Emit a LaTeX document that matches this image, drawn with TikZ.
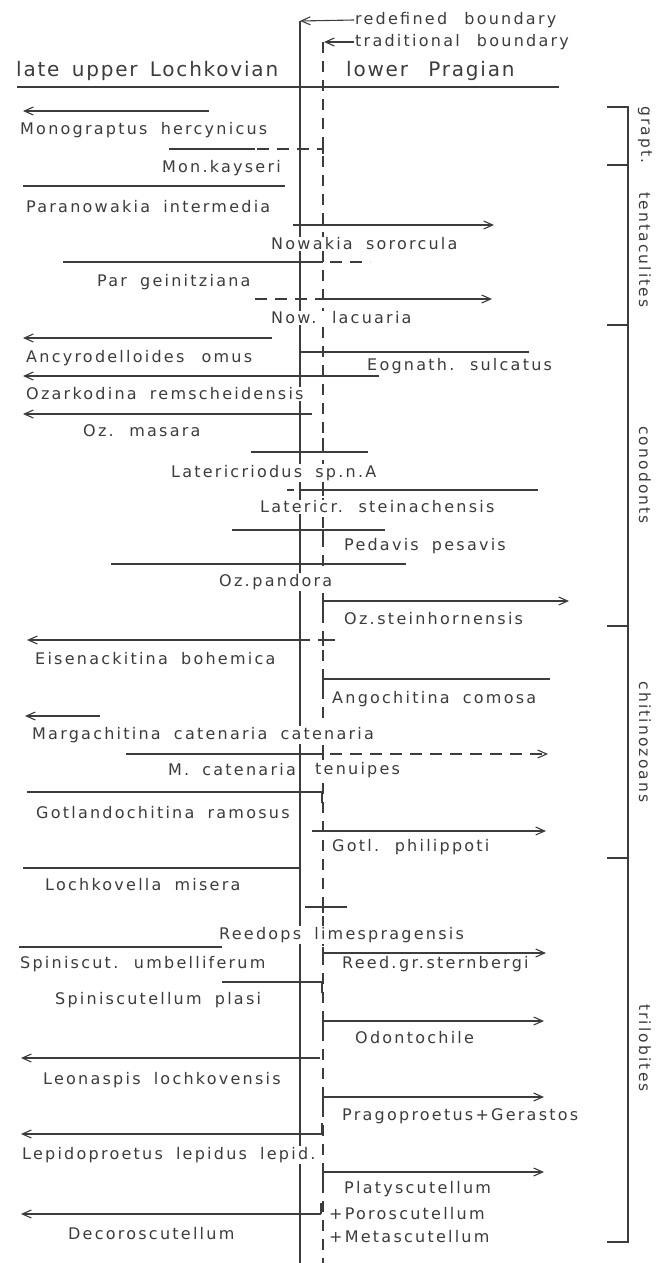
\documentclass[tikz,border=0pt]{standalone}
\usepackage{fontspec}
\usetikzlibrary{arrows.meta}
\newfontfamily\lblfont{DejaVu Sans}[LetterSpace=14,WordSpace=1.8]
\newfontfamily\hdrfont{DejaVu Sans}[LetterSpace=9,WordSpace=1.5]
\definecolor{ink}{RGB}{60,60,60}
\tikzset{
  ln/.style={draw=ink, line width=1.1pt},
  la/.style={ln, -{Straight Barb[length=9pt,width=8pt]}},
  dsh/.style={ln, dash pattern=on 12pt off 8pt},
  dla/.style={dsh, -{Straight Barb[length=9pt,width=8pt]}},
  vdash/.style={ln, dash pattern=on 11pt off 8pt},
  lbl/.style={anchor=west, text=ink, fill=white, inner sep=1pt, font={\lblfont\fontsize{16}{18}\selectfont}},
  lble/.style={lbl, anchor=east},
  hdr/.style={anchor=west, text=ink, inner sep=1pt, font={\hdrfont\fontsize{20}{22}\selectfont}},
  grp/.style={text=ink, inner sep=1pt, rotate=-90, font={\lblfont\fontsize{15.5}{17}\selectfont}},
}
\begin{document}
\begin{tikzpicture}[x=1pt,y=-1pt]
\useasboundingbox (0,0) rectangle (656,1263);
% boundaries
\coordinate (rb) at (300,21);
\coordinate (tb) at (323,42);
\draw[ln] (rb) -- (300,1263);
\draw[vdash] (tb) -- (323,1263);
\node[lbl, fill=none] (redef) at (354,20) {redefined\hspace{4pt} boundary};
\node[lbl, fill=none] (trad) at (354,42) {traditional\hspace{4pt} boundary};
\draw[la] (redef.west) -- (rb);
\draw[la] (trad.west) -- (324,42);
\node[hdr] (lul) at (15,71) {late upper Lochkovian};
\node[hdr] (lp) at (345,71) {lower\hspace{8pt} Pragian};
\draw[ln] (17,87) -- (559,87);
% right bracket
\draw[ln] (607,107) -- (628,107) -- (628,1242) -- (607,1242);
\draw[ln] (607,165) -- (628,165);
\draw[ln] (607,325) -- (628,325);
\draw[ln] (607,626) -- (628,626);
\draw[ln] (607,858) -- (628,858);
\node[grp] (g1) at (645,135) {grapt.};
\node[grp] (g2) at (645,250) {tentaculites};
\node[grp] (g3) at (645,475) {conodonts};
\node[grp] (g4) at (645,742) {chitinozoans};
\node[grp] (g5) at (645,1048) {trilobites};
% graptolites / tentaculites
\draw[la] (209,111) -- (23,111);
\draw[ln] (169,149) -- (255,149);
\draw[dsh] (257,149) -- (323,149);
\draw[ln] (323,144) -- (323,154);
\draw[ln] (23,186) -- (285,186);
\draw[la] (293,225) -- (494,225);
\draw[ln] (63,262) -- (323,262);
\draw[dsh] (330,262) -- (370,262);
\draw[dsh] (255,299) -- (323,299);
\draw[la] (323,299) -- (492,299);
% conodonts
\draw[la] (272,338) -- (23,338);
\draw[ln] (300,352) -- (529,352);
\draw[la] (379,376) -- (23,376);
\draw[la] (312,414) -- (23,414);
\draw[ln] (251,452) -- (368,452);
\draw[ln] (323,438) -- (323,452);
\draw[ln] (287,490) -- (294,490);
\draw[ln] (300,490) -- (538,490);
\draw[ln] (323,484) -- (323,496);
\draw[ln] (232,530) -- (385,530);
\draw[ln] (323,530) -- (323,540);
\draw[ln] (111,564) -- (406,564);
\draw[ln] (323,612) -- (323,601);
\draw[la] (323,601) -- (569,601);
% chitinozoans
\draw[la] (310,640) -- (27,640);
\draw[ln] (318,640) -- (335,640);
\draw[ln] (323,634) -- (323,646);
\draw[ln] (323,690) -- (323,679) -- (550,679);
\draw[la] (100,716) -- (25,716);
\draw[ln] (126,754) -- (323,754);
\draw[ln] (323,748) -- (323,760);
\draw[dla] (330,754) -- (548,754);
\draw[ln] (27,792) -- (322,792) -- (322,803);
\draw[la] (312,831) -- (546,831);
% trilobites
\draw[ln] (23,868) -- (300,868);
\draw[ln] (305,907) -- (347,907);
\draw[ln] (323,901) -- (323,913);
\draw[ln] (323,947) -- (323,959);
\draw[la] (323,953) -- (546,953);
\draw[ln] (19,947) -- (222,947);
\draw[ln] (222,982) -- (322,982) -- (322,993);
\draw[ln] (323,1032) -- (323,1021);
\draw[la] (323,1021) -- (544,1021);
\draw[la] (320,1058) -- (21,1058);
\draw[ln] (323,1108) -- (323,1097);
\draw[la] (323,1097) -- (544,1097);
\draw[ln] (322,1123) -- (322,1134);
\draw[la] (322,1134) -- (21,1134);
\draw[ln] (323,1183) -- (323,1172);
\draw[la] (323,1172) -- (544,1172);
\draw[ln] (321,1203) -- (321,1214);
\draw[la] (321,1214) -- (21,1214);
% labels
\node[lbl] (t1) at (19,130) {Monograptus hercynicus};
\node[lble] (t2) at (282,168) {Mon.kayseri};
\node[lbl] (t3) at (25,207) {Paranowakia intermedia};
\node[lbl] (t4) at (270,244) {Nowakia sororcula};
\node[lbl] (t5) at (96,282) {Par geinitziana};
\node[lbl] (t6) at (270,318) {Now. lacuaria};
\node[lbl] (t7) at (25,358) {Ancyrodelloides\hspace{4pt} omus};
\node[lbl] (t8) at (366,366) {Eognath. sulcatus};
\node[lbl] (t9) at (25,394) {Ozarkodina remscheidensis};
\node[lbl] (t10) at (82,431) {Oz. masara};
\node[lbl] (t11) at (170,473) {Latericriodus sp.n.A};
\node[lbl] (t12) at (259,507) {Latericr. steinachensis};
\node[lbl] (t13) at (343,546) {Pedavis pesavis};
\node[lbl] (t14) at (218,582) {Oz.\,pandora};
\node[lbl] (t15) at (343,619) {Oz.\,steinhornensis};
\node[lbl] (t16) at (34,659) {Eisenackitina bohemica};
\node[lbl] (t17) at (331,699) {Angochitina comosa};
\node[lbl] (t18) at (31,735) {Margachitina catenaria catenaria};
\node[lble] (t19) at (297,770) {M. catenaria};
\node[lbl] (t19b) at (314,770) {tenuipes};
\node[lbl] (t20) at (35,813) {Gotlandochitina ramosus};
\node[lbl] (t21) at (331,847) {Gotl. philippoti};
\node[lbl] (t22) at (44,885) {Lochkovella misera};
\node[lbl] (t23) at (218,935) {Reedops limespragensis};
\node[lbl] (t24) at (19,964) {Spiniscut. umbelliferum};
\node[lbl] (t25) at (341,964) {Reed.\,gr.\,sternbergi};
\node[lbl] (t26) at (54,1000) {Spiniscutellum plasi};
\node[lbl] (t27) at (354,1038) {Odontochile};
\node[lbl] (t28) at (42,1080) {Leonaspis lochkovensis};
\node[lbl] (t29) at (341,1116) {Pragoproetus+Gerastos};
\node[lbl] (t30) at (21,1155) {Lepidoproetus lepidus lepid.};
\node[lbl] (t31) at (343,1189) {Platyscutellum};
\node[lbl] (t32) at (328,1214) {+Poroscutellum};
\node[lbl] (t33) at (67,1234) {Decoroscutellum};
\node[lbl] (t34) at (328,1237) {+Metascutellum};
\end{tikzpicture}
\end{document}
